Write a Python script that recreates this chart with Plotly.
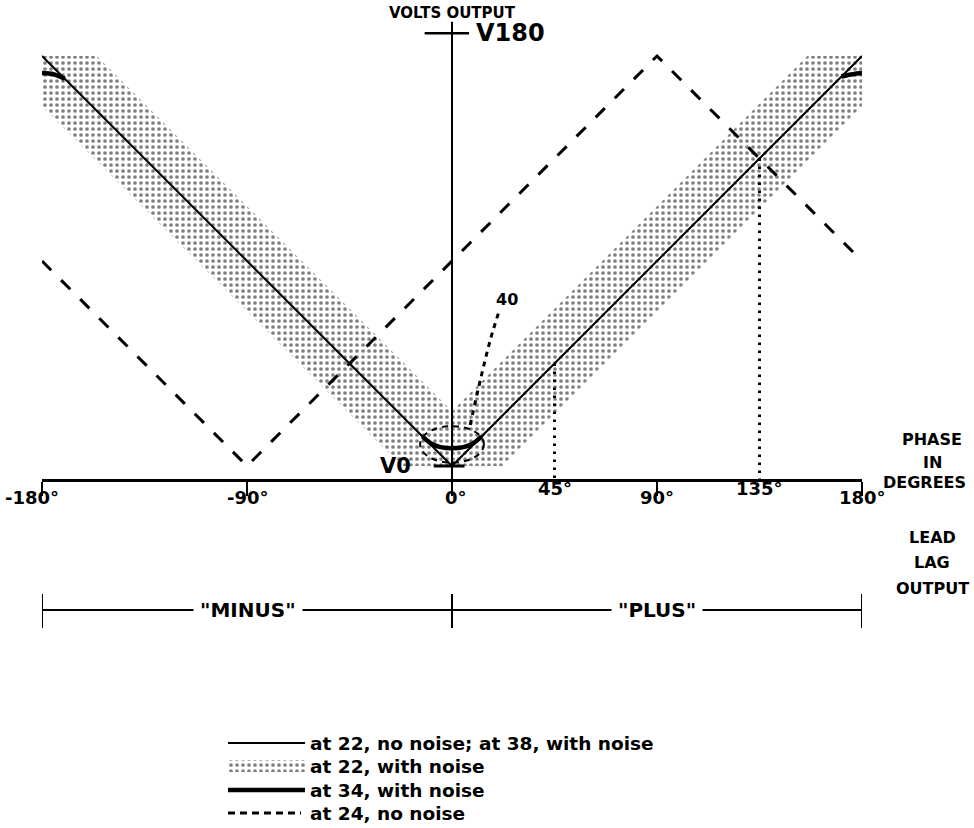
import plotly.graph_objects as go

# ---------------- data (phase in degrees, volts in arbitrary units; V0 = 0, V180 ~ 190) ----------------
# thin solid line: "at 22, no noise; at 38, with noise"
thin_phase = [-180, 0, 180]
thin_volts = [180, 0, 180]

# dotted band: "at 22, with noise" (outline of the noise band)
band_phase = [-180, -156, 0, 156, 180, 180, 22, -22, -180, -180]
band_volts = [180, 180, 24, 180, 180, 158, 0, 0, 158, 180]

# thick line: "at 34, with noise" (deviates from thin line near 0 and near +-180)
thick_left_phase = [-180, -175, -170]
thick_left_volts = [172.5, 172, 170]
thick_bowl_phase = [-13, -9, -5, 0, 5, 9, 13]
thick_bowl_volts = [13, 9.8, 8.3, 7.8, 8.3, 9.8, 13]
thick_right_phase = [171, 176, 180]
thick_right_volts = [171, 172, 172.5]

# dashed line: "at 24, no noise"
dash_phase = [-180, -90, 90, 180]
dash_volts = [90, 0, 180, 90]

# dotted drop lines at 45 and 135 degrees
drop_phase = [45, 135]

# "40" contour near the origin and its leader line
ring_phase = [-14, 14]
ring_volts = [1.5, 17.5]
leader_phase = [8, 12.5, 17, 21]
leader_volts = [18, 38, 56, 69]

# axis ticks / labels
main_ticks = [-180, -90, 0, 90, 180]
main_tick_text = ["-180°", "-90°", "0°", "90°", "180°"]
extra_ticks = [45, 135]
extra_tick_text = ["45°", "135°"]
leadlag_ticks = [-180, 0, 180]
V0, V180 = 0, 190

legend_labels = ["at 22, no noise; at 38, with noise", "at 22, with noise",
                 "at 34, with noise", "at 24, no noise"]

# ---------------- geometry of the page ----------------
W, H = 974, 828
PX_L, PX_R = 42, 862          # pixel x of -180 and +180
PY_V0 = 466                   # pixel y of V0
scale = (PX_R - PX_L) / 360.0 # pixels per unit
y_top = PY_V0 / scale
y_bot = -(H - PY_V0) / scale
AXIS_PY = 480
axis_v = -(AXIS_PY - PY_V0) / scale

def px(xp):
    return xp / W

def py(yp):
    return 1 - yp / H

FONT = "DejaVu Sans"
BLACK = "black"
PATTERN = dict(shape=".", size=6, solidity=0.3, fgcolor=BLACK, bgcolor="white")

fig = go.Figure()

# band
fig.add_trace(go.Scatter(
    x=band_phase, y=band_volts, mode="lines", fill="toself",
    line=dict(width=0, color="rgba(0,0,0,0)"), fillcolor="white",
    fillpattern=PATTERN, hoverinfo="skip", showlegend=False))

# thin line
fig.add_trace(go.Scatter(x=thin_phase, y=thin_volts, mode="lines",
                         line=dict(color=BLACK, width=2), showlegend=False))

# thick line pieces
for xs, ys in [(thick_left_phase, thick_left_volts), (thick_bowl_phase, thick_bowl_volts),
               (thick_right_phase, thick_right_volts)]:
    fig.add_trace(go.Scatter(x=xs, y=ys, mode="lines", line=dict(color=BLACK, width=4.5, shape="spline"),
                             showlegend=False))

# dashed line
fig.add_trace(go.Scatter(x=dash_phase, y=dash_volts, mode="lines",
                         line=dict(color=BLACK, width=3, dash="13px,14px"), showlegend=False))

# dotted drop lines
for p in drop_phase:
    fig.add_trace(go.Scatter(x=[p, p], y=[abs(p), axis_v], mode="lines",
                             line=dict(color=BLACK, width=3, dash="2.5px,5.5px"), showlegend=False))

# leader to "40"
fig.add_trace(go.Scatter(x=leader_phase, y=leader_volts, mode="lines",
                         line=dict(color=BLACK, width=3, dash="5px,5px", shape="spline"), showlegend=False))

shapes = []
# ring "40"
shapes.append(dict(type="circle", xref="x", yref="y", x0=ring_phase[0], x1=ring_phase[1],
                   y0=ring_volts[0], y1=ring_volts[1], line=dict(color=BLACK, width=2, dash="6px,5px")))
# vertical volts axis
shapes.append(dict(type="line", xref="x", yref="y", x0=0, x1=0, y0=axis_v, y1=195,
                   line=dict(color=BLACK, width=2)))
# V180 and V0 ticks
shapes.append(dict(type="line", xref="x", yref="y", x0=-12, x1=7.5, y0=V180, y1=V180,
                   line=dict(color=BLACK, width=2.5)))
shapes.append(dict(type="line", xref="x", yref="y", x0=-8, x1=5.5, y0=V0, y1=V0,
                   line=dict(color=BLACK, width=3)))
# lead-lag axis
LL_PY = 610
shapes.append(dict(type="line", xref="x", yref="paper", x0=-180, x1=180, y0=py(LL_PY), y1=py(LL_PY),
                   line=dict(color=BLACK, width=2)))
for t in leadlag_ticks:
    shapes.append(dict(type="line", xref="x", yref="paper", x0=t, x1=t, y0=py(594), y1=py(628),
                       line=dict(color=BLACK, width=2)))

annotations = []
def txt(s, x, y, size, xanchor="center", bg=None, pad=1):
    d = dict(text=s, x=px(x), y=py(y), xref="paper", yref="paper", showarrow=False,
             xanchor=xanchor, yanchor="middle",
             font=dict(family=FONT, size=size, color=BLACK, weight="bold"))
    if bg:
        d["bgcolor"] = bg
        d["borderpad"] = pad
    annotations.append(d)

txt("VOLTS OUTPUT", 452, 13, 15)
txt("V180", 474, 33, 24, xanchor="left")
txt("V0", 395, 466, 21)
txt("40", 507, 299, 16)
txt("PHASE", 932, 439, 16)
txt("IN", 932, 462, 16)
txt("DEGREES", 924, 482, 16)
txt("LEAD", 932, 537, 16)
txt("LAG", 932, 562, 16)
txt("OUTPUT", 932, 588, 16)

label_px = {-180: 32, -90: 248, 0: 456, 90: 657, 180: 862}
for t, s in zip(main_ticks, main_tick_text):
    txt(s, label_px[t], 497, 18)
for t, s in zip(extra_ticks, extra_tick_text):
    txt(s, PX_L + (t + 180) * scale, 489, 18)

txt('"MINUS"', 248, 610, 20, bg="white", pad=6)
txt('"PLUS"', 657, 610, 20, bg="white", pad=6)

# ---------------- legend (drawn on a pixel-space overlay axis) ----------------
LEG_X0, LEG_X1, LEG_TX = 228, 305, 308
rows = [743, 766, 790, 813]
fig.add_trace(go.Scatter(x=[LEG_X0, LEG_X1], y=[rows[0]] * 2, mode="lines", xaxis="x2", yaxis="y2",
                         line=dict(color=BLACK, width=2), showlegend=False))
fig.add_trace(go.Scatter(x=[LEG_X0, LEG_X1, LEG_X1, LEG_X0, LEG_X0],
                         y=[rows[1] - 6, rows[1] - 6, rows[1] + 6, rows[1] + 6, rows[1] - 6],
                         mode="lines", fill="toself", xaxis="x2", yaxis="y2",
                         line=dict(width=0, color="rgba(0,0,0,0)"), fillcolor="white",
                         fillpattern=PATTERN, showlegend=False))
fig.add_trace(go.Scatter(x=[LEG_X0, LEG_X1], y=[rows[2]] * 2, mode="lines", xaxis="x2", yaxis="y2",
                         line=dict(color=BLACK, width=4.5), showlegend=False))
fig.add_trace(go.Scatter(x=[LEG_X0, LEG_X1 - 4], y=[rows[3]] * 2, mode="lines", xaxis="x2", yaxis="y2",
                         line=dict(color=BLACK, width=3, dash="7px,5px"), showlegend=False))
for r, lab in zip(rows, legend_labels):
    txt(lab, LEG_TX, r, 18.5, xanchor="left")

fig.update_layout(
    width=W, height=H, margin=dict(l=0, r=0, t=0, b=0),
    paper_bgcolor="white", plot_bgcolor="rgba(0,0,0,0)",
    showlegend=False, shapes=shapes, annotations=annotations,
    xaxis=dict(domain=[PX_L / W, PX_R / W], range=[-180, 180], anchor="free", position=py(AXIS_PY),
               showline=True, linecolor=BLACK, linewidth=3, ticks="outside", ticklen=14, tickwidth=2,
               tickcolor=BLACK, tickvals=main_ticks, showticklabels=False, showgrid=False, zeroline=False,
               fixedrange=True),
    yaxis=dict(domain=[0, 1], range=[y_bot, y_top], visible=False, fixedrange=True),
    xaxis2=dict(domain=[0, 1], range=[0, W], visible=False, anchor="y2"),
    yaxis2=dict(domain=[0, 1], range=[H, 0], visible=False, anchor="x2"),
)

fig.write_html("out.html", config={"displayModeBar": False},
               post_script="document.body.style.margin='0';document.body.style.overflow='hidden';")
